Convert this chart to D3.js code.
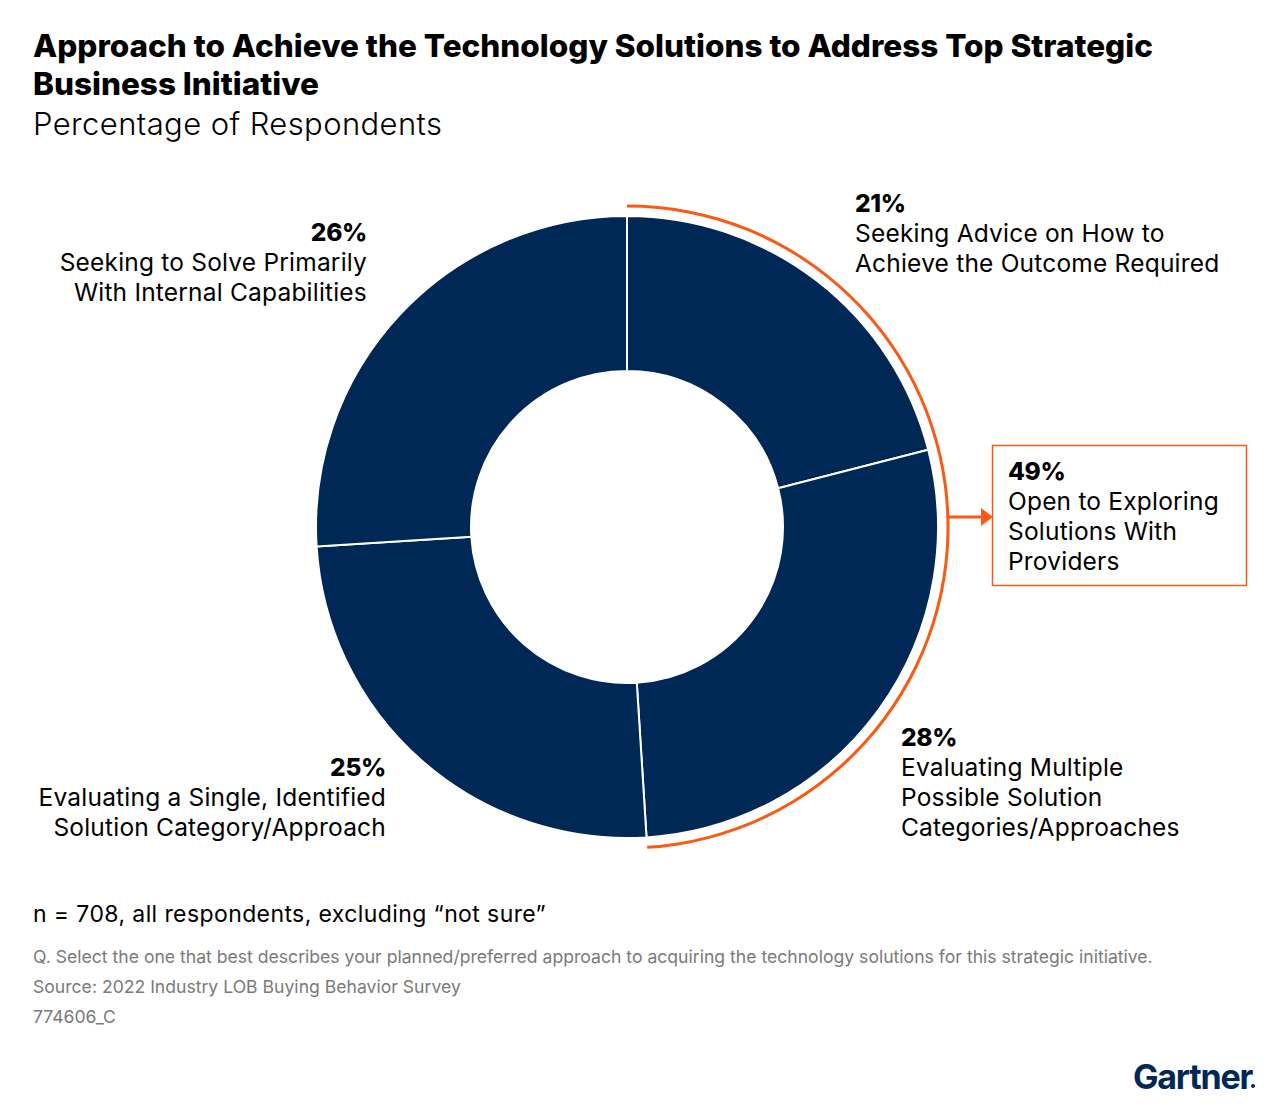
<!DOCTYPE html>
<html><head><meta charset="utf-8">
<script src="https://cdn.jsdelivr.net/npm/d3@7/dist/d3.min.js"></script>
<style>body{margin:0;background:#fff}svg{display:block}</style>
</head><body>
<svg id="c" width="1280" height="1104"></svg>
<script>
const categories = ["Seeking Advice on How to Achieve the Outcome Required","Evaluating Multiple Possible Solution Categories/Approaches","Evaluating a Single, Identified Solution Category/Approach","Seeking to Solve Primarily With Internal Capabilities"];
const values = [21, 28, 25, 26];
const labelLines = [["Seeking Advice on How to","Achieve the Outcome Required"],["Evaluating Multiple","Possible Solution","Categories/Approaches"],["Evaluating a Single, Identified","Solution Category/Approach"],["Seeking to Solve Primarily","With Internal Capabilities"]];
const highlightValue = 49;
const highlightLines = ["Open to Exploring","Solutions With","Providers"];
const titleLines = ["Approach to Achieve the Technology Solutions to Address Top Strategic","Business Initiative"];
const subtitle = "Percentage of Respondents";
const noteLines = ["n = 708, all respondents, excluding \u201cnot sure\u201d"];
const sourceLines = ["Q. Select the one that best describes your planned/preferred approach to acquiring the technology solutions for this strategic initiative.","Source: 2022 Industry LOB Buying Behavior Survey","774606_C"];

const svg = d3.select("#c");
const NAVY = "#002856", ORANGE = "#fa5a14", F = "Inter, 'Open Sans', sans-serif";

// Title
titleLines.forEach((t,i)=>{
  svg.append("text").attr("x",33).attr("y",57+i*38).text(t)
    .attr("font-family",F).attr("font-weight",800).attr("font-size",31.5).attr("fill","#000");
});
svg.append("text").attr("x",33).attr("y",135).text(subtitle)
  .attr("font-family",F).attr("font-weight",300).attr("font-size",31).attr("fill","#000")
  .attr("letter-spacing","0.4");

// Donut
const cx=627, cy=527, rO=311, rI=156;
const g = svg.append("g").attr("transform",`translate(${cx},${cy})`);
const pie = d3.pie().sort(null).value(d=>d);
const arcs = pie(values);
const arc = d3.arc().innerRadius(rI).outerRadius(rO);
g.selectAll("path.s").data(arcs).join("path").attr("class","s")
  .attr("d",arc).attr("fill",NAVY).attr("stroke","#fff").attr("stroke-width",2);

// Highlight arc spanning first two slices
const hlPath = d3.arc()({innerRadius:319.5,outerRadius:322.5,startAngle:arcs[0].startAngle,endAngle:arcs[1].endAngle});
g.append("path").attr("d",hlPath).attr("fill",ORANGE);

// Arrow + box
svg.append("line").attr("x1",cx+321).attr("y1",517).attr("x2",983).attr("y2",517)
  .attr("stroke",ORANGE).attr("stroke-width",3);
svg.append("path").attr("d","M981,508 L993,517 L981,526 Z").attr("fill",ORANGE);
svg.append("rect").attr("x",992.5).attr("y",445.5).attr("width",254).attr("height",140)
  .attr("fill","none").attr("stroke",ORANGE).attr("stroke-width",1.5);

function block(x, y, anchor, pct, lines){
  const t = svg.append("text").attr("font-family",F).attr("font-size",24.5).attr("fill","#000").attr("text-anchor",anchor);
  t.append("tspan").attr("x",x).attr("y",y).attr("font-weight",800).attr("letter-spacing","-0.3").text(pct+"%");
  lines.forEach((l,i)=>t.append("tspan").attr("x",x).attr("y",y+30*(i+1)).attr("font-weight",400).attr("letter-spacing","0.2").text(l));
}
block(855,212,"start",values[0],labelLines[0]);
block(901,746,"start",values[1],labelLines[1]);
block(386,776,"end",values[2],labelLines[2]);
block(367,241,"end",values[3],labelLines[3]);
block(1008,480,"start",highlightValue,highlightLines);

// Notes
svg.append("text").attr("x",33).attr("y",922).text(noteLines[0])
  .attr("font-family",F).attr("font-size",23).attr("fill","#000").attr("letter-spacing","0.4");
sourceLines.forEach((s,i)=>{
  svg.append("text").attr("x",33).attr("y",963+i*30).text(s)
    .attr("font-family",F).attr("font-size",17.6).attr("fill","#7a7a7a");
});
// Logo
svg.append("text").attr("x",1133).attr("y",1089).text("Gartner")
  .attr("font-family",F).attr("font-weight",700).attr("font-size",34).attr("fill",NAVY).attr("letter-spacing","-1.2");
svg.append("circle").attr("cx",1253).attr("cy",1086).attr("r",2).attr("fill",NAVY);
</script>
</body></html>
